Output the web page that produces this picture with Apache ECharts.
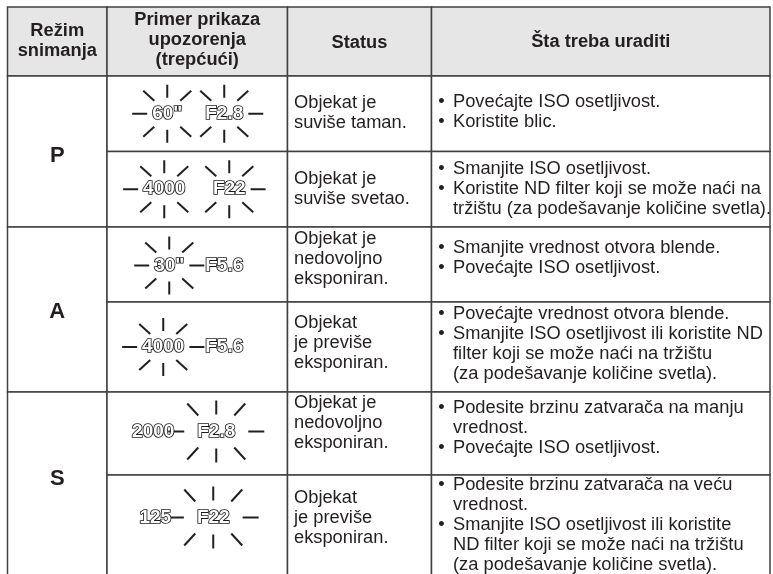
<!DOCTYPE html>
<html><head><meta charset="utf-8">
<script src="https://cdn.jsdelivr.net/npm/echarts@6/dist/echarts.min.js"></script>
<style>html,body{margin:0;padding:0;background:#fff}#c{width:773px;height:574px}</style>
</head><body><div id="c"></div>
<script>
// ---------- content ----------
const headers = ['Režim\nsnimanja', 'Primer prikaza\nupozorenja\n(trepćući)', 'Status', 'Šta treba uraditi'];
const modes = ['P', 'A', 'S'];
const shutterValues = ['60"', '4000', '30"', '4000', '2000', '125'];
const apertureValues = ['F2.8', 'F22', 'F5.6', 'F5.6', 'F2.8', 'F22'];
const blinking = [['shutter', 'aperture'], ['shutter', 'aperture'], ['shutter'], ['shutter'], ['aperture'], ['aperture']];
const statuses = [
  ['Objekat je', 'suviše taman.'],
  ['Objekat je', 'suviše svetao.'],
  ['Objekat je', 'nedovoljno', 'eksponiran.'],
  ['Objekat', 'je previše', 'eksponiran.'],
  ['Objekat je', 'nedovoljno', 'eksponiran.'],
  ['Objekat', 'je previše', 'eksponiran.']
];
const actions = [
  [['Povećajte ISO osetljivost.'], ['Koristite blic.']],
  [['Smanjite ISO osetljivost.'], ['Koristite ND filter koji se može naći na', 'tržištu (za podešavanje količine svetla).']],
  [['Smanjite vrednost otvora blende.'], ['Povećajte ISO osetljivost.']],
  [['Povećajte vrednost otvora blende.'], ['Smanjite ISO osetljivost ili koristite ND', 'filter koji se može naći na tržištu', '(za podešavanje količine svetla).']],
  [['Podesite brzinu zatvarača na manju', 'vrednost.'], ['Povećajte ISO osetljivost.']],
  [['Podesite brzinu zatvarača na veću', 'vrednost.'], ['Smanjite ISO osetljivost ili koristite', 'ND filter koji se može naći na tržištu', '(za podešavanje količine svetla).']]
];

// ---------- layout (positions / sizes / styles) ----------
const colEdges = [7.5, 107, 287.5, 431.5, 770];
const rowEdges = [7, 76, 151.5, 227, 302, 392, 475, 582];
const headerDy = [-1, -1.5, 1, 0];
const modeDy = [4, 2, -8];
const statusDy = [-1, 0, -6, -4, -11, -11];
const actionDy = [-2, 0, -7, -3, -6, -4];
const iconPos = [[-30, 27, 0], [-33, 32, 0], [-28, 27, 1], [-34, 27, 0], [-44, 19, -2], [-42, 16, -11]];
const burstBig = [false, false, false, false, true, true];
const LH = 20;
const FONT = '"Liberation Sans", Arial, Helvetica, sans-serif';
const INK = '#231f20';
const BORDER = '#404040';
const HEADER_BG = '#e6e6e6';
const BODY_SIZE = 18.3;

const measureCtx = document.createElement('canvas').getContext('2d');
function textWidth(t, font) { measureCtx.font = font; return measureCtx.measureText(t).width; }
const DIGIT_FONT = 'bold 19px "Liberation Sans"';

// cells: [col, rowStart, rowEnd, kind, index]
const cells = [];
headers.forEach((h, i) => cells.push([i, 0, 1, 0, i]));
modes.forEach((m, i) => cells.push([0, 1 + 2 * i, 3 + 2 * i, 1, i]));
statuses.forEach((s, i) => {
  cells.push([1, 1 + i, 2 + i, 2, i]);
  cells.push([2, 1 + i, 2 + i, 3, i]);
  cells.push([3, 1 + i, 2 + i, 4, i]);
});

function txt(x, y, text, opts) {
  return {
    type: 'text', x: x, y: y,
    style: Object.assign({
      text: text, fill: INK,
      font: (opts && opts.bold ? 'bold ' : '') + ((opts && opts.size) || BODY_SIZE) + 'px ' + FONT,
      textAlign: (opts && opts.align) || 'left', textVerticalAlign: 'middle'
    }, (opts && opts.extra) || {})
  };
}
function ray(x1, y1, x2, y2) {
  return { type: 'line', shape: { x1: x1, y1: y1, x2: x2, y2: y2 }, style: { stroke: INK, lineWidth: 2 } };
}
function burst(cx, cy, hw, big, left, right) {
  const h = big ? [hw + 13, hw + 29] : [hw + 5, hw + 20];
  const v = big ? [17, 31] : [16, 29];
  const d = big ? [[18, 16], [29, 28]] : [[13, 13], [24, 23]];
  const out = [];
  out.push(ray(cx, cy - v[0], cx, cy - v[1]));
  out.push(ray(cx, cy + v[0], cx, cy + v[1]));
  [[-1, -1], [1, -1], [-1, 1], [1, 1]].forEach(([sx, sy]) => {
    out.push(ray(cx + sx * d[0][0], cy + sy * d[0][1], cx + sx * d[1][0], cy + sy * d[1][1]));
  });
  if (left) out.push(ray(cx - h[0], cy, cx - h[1], cy));
  if (right) out.push(ray(cx + h[0], cy, cx + h[1], cy));
  return out;
}

function renderItem(params, api) {
  const col = api.value(0), r0 = api.value(1), r1 = api.value(2), kind = api.value(3), idx = api.value(4);
  const tl = api.coord([colEdges[col], rowEdges[r0]]);
  const br = api.coord([colEdges[col + 1], rowEdges[r1]]);
  const cx = (tl[0] + br[0]) / 2, cy = (tl[1] + br[1]) / 2;
  const ch = [{
    type: 'rect', shape: { x: tl[0], y: tl[1], width: br[0] - tl[0], height: br[1] - tl[1] },
    style: { fill: kind === 0 ? HEADER_BG : '#fff', stroke: BORDER, lineWidth: 1.5 }
  }];
  if (kind === 0) {
    const lines = headers[idx].split('\n');
    const y0 = cy + headerDy[idx] - (lines.length - 1) * LH / 2;
    lines.forEach((l, k) => ch.push(txt(cx, y0 + k * LH, l, { bold: true, align: 'center' })));
  } else if (kind === 1) {
    ch.push(txt(cx, cy + modeDy[idx], modes[idx], { bold: true, size: 22, align: 'center' }));
  } else if (kind === 2) {
    const p = iconPos[idx];
    const y = cy + p[2];
    const sx = cx + p[0], ax = cx + p[1];
    const both = blinking[idx].length === 2;
    const sw = textWidth(shutterValues[idx], DIGIT_FONT) / 2;
    const aw = textWidth(apertureValues[idx], DIGIT_FONT) / 2;
    if (blinking[idx].indexOf('shutter') >= 0) ch.push.apply(ch, burst(sx, y, sw, burstBig[idx], true, !both));
    if (blinking[idx].indexOf('aperture') >= 0) ch.push.apply(ch, burst(ax, y, aw, burstBig[idx], !both, true));
    [[sx, shutterValues[idx]], [ax, apertureValues[idx]]].forEach(([x, t]) => {
      ch.push({
        type: 'text', x: x, y: y,
        style: { text: t, font: DIGIT_FONT, textAlign: 'center', textVerticalAlign: 'middle', fill: '#fff', stroke: '#1a1a1a', lineWidth: 1.7 }
      });
    });
  } else if (kind === 3) {
    const lines = statuses[idx];
    const y0 = cy + statusDy[idx] - (lines.length - 1) * LH / 2;
    lines.forEach((l, k) => ch.push(txt(tl[0] + 6.5, y0 + k * LH, l)));
  } else if (kind === 4) {
    const flat = [];
    actions[idx].forEach(b => b.forEach((l, k) => flat.push([l, k === 0])));
    const y0 = cy + actionDy[idx] - (flat.length - 1) * LH / 2;
    flat.forEach(([l, first], k) => {
      const y = y0 + k * LH;
      if (first) ch.push(txt(tl[0] + 10, y, '•', { align: 'center' }));
      ch.push(txt(tl[0] + 21.5, y, l));
    });
  }
  return { type: 'group', children: ch };
}

const chart = echarts.init(document.getElementById('c'), null, { renderer: 'canvas' });
chart.setOption({
  animation: false,
  backgroundColor: '#fff',
  grid: { left: 0, right: 0, top: 0, bottom: 0 },
  xAxis: { type: 'value', min: 0, max: 773, show: false },
  yAxis: { type: 'value', min: 0, max: 574, inverse: true, show: false },
  series: [{
    type: 'custom',
    coordinateSystem: 'cartesian2d',
    renderItem: renderItem,
    clip: false,
    silent: true,
    encode: { x: 0, y: 1 },
    data: cells
  }]
});
</script></body></html>
